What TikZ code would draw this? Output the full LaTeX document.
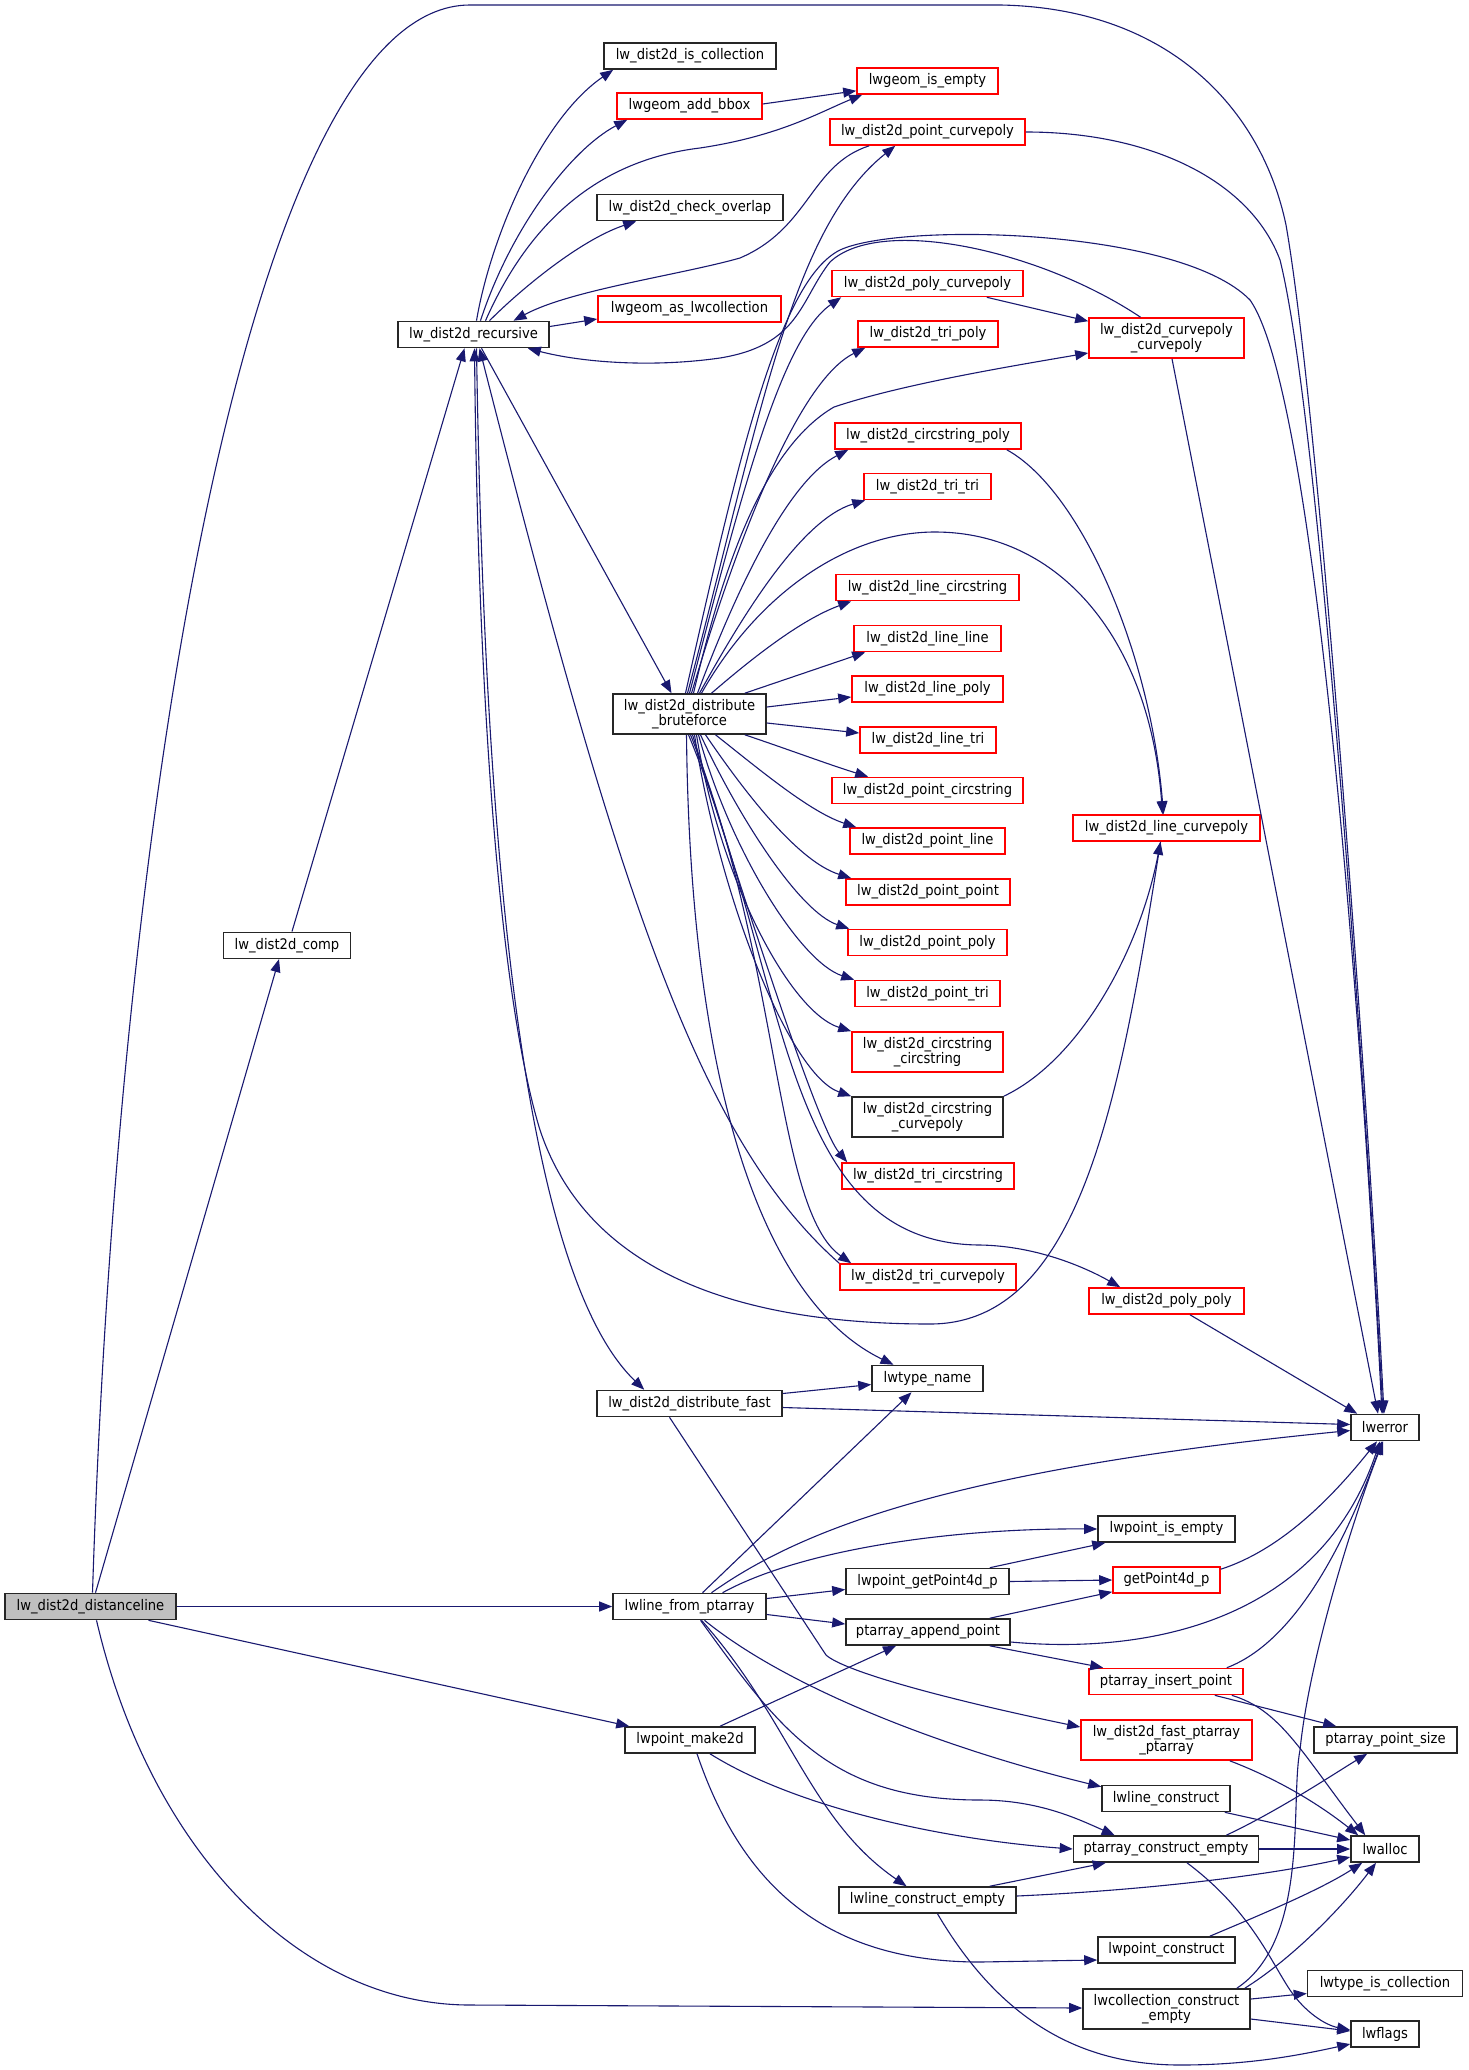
\documentclass[tikz,border=0pt]{standalone}
\usepackage{fontspec}
\setmainfont{DejaVu Sans}[FakeStretch=0.9]
\usetikzlibrary{arrows.meta,calc}
\definecolor{edgec}{HTML}{191970}
\definecolor{redb}{HTML}{FF0000}
\definecolor{grayf}{HTML}{BFBFBF}
\begin{document}
\begin{tikzpicture}[x=0.5pt,y=-0.5pt,
  nd/.style={draw, rectangle, inner sep=0pt, minimum height=13pt, font=\fontsize{7.3pt}{7.6pt}\selectfont, align=center, line width=0.8pt, fill=white},
  kb/.style={nd, draw=black!85},
  rb/.style={nd, draw=redb},
  wd/.style={minimum width=#1*0.5pt},
  tall/.style={minimum height=20pt},
  ed/.style={draw=edgec, line width=0.55pt, -{Triangle[length=6.5pt,width=5pt]}},
]
\useasboundingbox[fill=white] (0,0) rectangle (1468,2070);
% nodes
\node[kb, fill=grayf, wd=171] (dl) at (90.5,1606.5) {lw\_dist2d\_distanceline};
\node[kb, wd=127] (comp) at (287,945.3) {lw\_dist2d\_comp};
\node[kb, wd=151] (rec) at (473.5,334.5) {lw\_dist2d\_recursive};
\node[kb, wd=172] (iscoll) at (690,56) {lw\_dist2d\_is\_collection};
\node[rb, wd=145] (addbb) at (689.5,106) {lwgeom\_add\_bbox};
\node[kb, wd=186] (chko) at (690,207.5) {lw\_dist2d\_check\_overlap};
\node[rb, wd=183] (aslwc) at (689.5,309) {lwgeom\_as\_lwcollection};
\node[kb, wd=153, tall] (bf) at (689.5,714) {lw\_dist2d\_distribute\\\_bruteforce};
\node[kb, wd=185] (dfast) at (689.5,1403.5) {lw\_dist2d\_distribute\_fast};
\node[kb, wd=153] (lfp) at (689.5,1606.5) {lwline\_from\_ptarray};
\node[kb, wd=130] (mk2d) at (690,1740) {lwpoint\_make2d};
\node[rb, wd=141] (isempty) at (927.5,81) {lwgeom\_is\_empty};
\node[rb, wd=195] (ptcp) at (927.5,132) {lw\_dist2d\_point\_curvepoly};
\node[rb, wd=191] (polycp) at (927.5,283.5) {lw\_dist2d\_poly\_curvepoly};
\node[rb, wd=140] (tripoly) at (928,334) {lw\_dist2d\_tri\_poly};
\node[rb, wd=186] (cspoly) at (928,436) {lw\_dist2d\_circstring\_poly};
\node[rb, wd=127] (tritri) at (927.5,486.5) {lw\_dist2d\_tri\_tri};
\node[rb, wd=183] (linecs) at (927.5,587.5) {lw\_dist2d\_line\_circstring};
\node[rb, wd=147] (lineline) at (927.5,638.5) {lw\_dist2d\_line\_line};
\node[rb, wd=151] (linepoly) at (927.5,689) {lw\_dist2d\_line\_poly};
\node[rb, wd=136] (linetri) at (928,740) {lw\_dist2d\_line\_tri};
\node[rb, wd=191] (ptcs) at (927.5,790.5) {lw\_dist2d\_point\_circstring};
\node[rb, wd=155] (ptline) at (927.5,841) {lw\_dist2d\_point\_line};
\node[rb, wd=164] (ptpt) at (928,892) {lw\_dist2d\_point\_point};
\node[rb, wd=159] (ptpoly) at (927.5,942.5) {lw\_dist2d\_point\_poly};
\node[rb, wd=145] (pttri) at (927.5,993.5) {lw\_dist2d\_point\_tri};
\node[rb, wd=151, tall] (cscs) at (927.5,1052) {lw\_dist2d\_circstring\\\_circstring};
\node[kb, wd=151, tall] (cscp) at (927.5,1117) {lw\_dist2d\_circstring\\\_curvepoly};
\node[rb, wd=172] (trics) at (928,1176) {lw\_dist2d\_tri\_circstring};
\node[rb, wd=176] (tricp) at (928,1277) {lw\_dist2d\_tri\_curvepoly};
\node[kb, wd=111] (tname) at (927.5,1378.5) {lwtype\_name};
\node[kb, wd=163] (gp4d) at (927.5,1581.5) {lwpoint\_getPoint4d\_p};
\node[kb, wd=164] (apppt) at (928,1632) {ptarray\_append\_point};
\node[kb, wd=177] (lce) at (927.5,1900) {lwline\_construct\_empty};
\node[rb, wd=155, tall] (cpcp) at (1166.5,338) {lw\_dist2d\_curvepoly\\\_curvepoly};
\node[rb, wd=187] (linecp) at (1166.5,828) {lw\_dist2d\_line\_curvepoly};
\node[rb, wd=155] (polypoly) at (1166.5,1301) {lw\_dist2d\_poly\_poly};
\node[kb, wd=137] (ptisempty) at (1166.5,1529) {lwpoint\_is\_empty};
\node[rb, wd=107] (getp) at (1166.5,1580) {getPoint4d\_p};
\node[rb, wd=154] (inspt) at (1166,1681.5) {ptarray\_insert\_point};
\node[rb, wd=171, tall] (fastpp) at (1166.5,1740) {lw\_dist2d\_fast\_ptarray\\\_ptarray};
\node[kb, wd=128] (lcons) at (1166,1798.5) {lwline\_construct};
\node[kb, wd=185] (pce) at (1166,1849) {ptarray\_construct\_empty};
\node[kb, wd=137] (ptcons) at (1166.5,1950) {lwpoint\_construct};
\node[kb, wd=167, tall] (colce) at (1166.5,2009) {lwcollection\_construct\\\_empty};
\node[kb, wd=68] (lwerror) at (1385,1427.5) {lwerror};
\node[kb, wd=143] (pps) at (1385.5,1740) {ptarray\_point\_size};
\node[kb, wd=68] (lwalloc) at (1385,1849) {lwalloc};
\node[kb, wd=155] (tic) at (1385,1983.5) {lwtype\_is\_collection};
\node[kb, wd=68] (lwflags) at (1385,2034) {lwflags};

% distanceline
\draw[ed] ($(dl.north)+(2,0)$) .. controls (118,800) and (250,5) .. (470,5) -- (1000,5) .. controls (1170,8) and (1262,110) .. (1286,225) .. controls (1320,420) and (1368,1100) .. ($(lwerror.north)+(-1,0)$);
\draw[ed] ($(dl.north)+(5,0)$) -- ($(comp.south)+(-8,0)$);
\draw[ed] (dl.east) -- (lfp.west);
\draw[ed] ($(dl.south)+(58,0)$) -- ($(mk2d.north west)+(5,0)$);
\draw[ed] ($(dl.south)+(6,0)$) .. controls (150,1850) and (300,2005) .. (470,2005) -- ($(colce.west)+(0,-1)$);
% comp
\draw[ed] ($(comp.north)+(5,0)$) -- ($(rec.south)+(-9,0)$);
% recursive
\draw[ed] ($(rec.north)+(3,0)$) .. controls (490,240) and (540,120) .. ($(iscoll.south west)+(10,0)$);
\draw[ed] ($(rec.north)+(7,0)$) .. controls (510,230) and (570,150) .. ($(addbb.south west)+(11,0)$);
\draw[ed] ($(rec.north)+(12,0)$) .. controls (530,220) and (600,160) .. (700,148) .. controls (780,136) and (820,112) .. ($(isempty.south west)+(6,0)$);
\draw[ed] ($(addbb.east)+(0,-2)$) -- ($(isempty.south west)+(0,-4)$);
\draw[ed] ($(rec.north)+(16,0)$) .. controls (520,290) and (580,240) .. ($(chko.south west)+(40,0)$);
\draw[ed] ($(ptcp.south west)+(40,0)$) .. controls (810,165) and (810,228) .. (740,258) .. controls (680,275) and (570,290) .. ($(rec.north)+(40,0)$);
\draw[ed] ($(rec.east)+(0,-8)$) -- ($(aslwc.west)+(0,10)$);
\draw[ed] ($(cpcp.north)+(-26,0)$) .. controls (1040,250) and (880,215) .. (830,262) .. controls (800,300) and (800,345) .. (720,358) .. controls (650,368) and (580,362) .. ($(rec.south east)+(-22,0)$);
\draw[ed] ($(rec.south)+(8,0)$) -- ($(bf.north)+(-18,0)$);
\draw[ed] ($(rec.south)+(3,0)$) .. controls (485,900) and (530,1280) .. ($(dfast.north west)+(48,0)$);
\draw[ed] (tricp.north west) .. controls (700,1140) and (620,900) .. ($(rec.south)+(6,0)$);
\draw[ed] ($(linecp.south)+(-6,0)$) .. controls (1120,1100) and (1080,1324) .. (930,1324) .. controls (700,1324) and (580,1250) .. (540,1130) .. controls (500,1000) and (478,700) .. ($(rec.south)+(1,0)$);
% bruteforce
\draw[ed] ($(bf.north)+(-2,0)$) .. controls (760,420) and (790,230) .. ($(ptcp.south west)+(66,0)$);
\draw[ed] (bf.north) .. controls (740,500) and (780,340) .. ($(polycp.south west)+(10,0)$);
\draw[ed] ($(bf.north)+(2,0)$) .. controls (740,530) and (800,380) .. ($(tripoly.south west)+(8,0)$);
\draw[ed] ($(bf.north)+(4,0)$) .. controls (720,580) and (760,450) .. (834,407) .. controls (900,385) and (1000,368) .. ($(cpcp.west)+(0,15)$);
\draw[ed] ($(bf.north)+(8,0)$) .. controls (740,580) and (790,480) .. ($(cspoly.south west)+(14,0)$);
\draw[ed] ($(bf.north)+(10,0)$) .. controls (740,620) and (800,520) .. ($(tritri.south west)+(2,0)$);
\draw[ed] ($(bf.north)+(12,0)$) .. controls (760,590) and (850,532) .. (935,532) .. controls (1060,532) and (1150,640) .. ($(linecp.north)+(-4,0)$);
\draw[ed] ($(bf.north)+(22,0)$) .. controls (750,660) and (800,620) .. ($(linecs.south west)+(16,0)$);
\draw[ed] ($(bf.north east)+(-22,0)$) -- ($(lineline.south west)+(12,0)$);
\draw[ed] ($(bf.east)+(0,-7)$) -- ($(linepoly.west)+(0,8)$);
\draw[ed] ($(bf.east)+(0,9)$) -- ($(linetri.west)+(0,-7)$);
\draw[ed] ($(bf.south east)+(-22,0)$) .. controls (790,750) and (830,765) .. ($(ptcs.north west)+(37,0)$);
\draw[ed] ($(bf.south)+(26,0)$) .. controls (760,770) and (810,812) .. ($(ptline.north west)+(7,0)$);
\draw[ed] ($(bf.south)+(16,0)$) .. controls (750,800) and (800,862) .. ($(ptpt.north west)+(6,0)$);
\draw[ed] ($(bf.south)+(11,0)$) .. controls (740,820) and (800,912) .. ($(ptpoly.north west)+(2,0)$);
\draw[ed] ($(bf.south)+(9,0)$) .. controls (730,850) and (800,962) .. (pttri.north west);
\draw[ed] ($(bf.south)+(7,0)$) .. controls (720,880) and (790,1012) .. (cscs.north west);
\draw[ed] ($(bf.south)+(5,0)$) .. controls (720,900) and (790,1075) .. (cscp.north west);
\draw[ed] ($(bf.south)+(3,0)$) .. controls (760,950) and (820,1130) .. ($(trics.north west)+(6,0)$);
\draw[ed] ($(bf.south)+(1,0)$) .. controls (780,960) and (775,1210) .. ($(tricp.north west)+(12,0)$);
\draw[ed] ($(bf.south)+(-1,0)$) .. controls (790,980) and (780,1244) .. (980,1245) .. controls (1040,1246) and (1090,1270) .. ($(polypoly.north west)+(32,0)$);
\draw[ed] ($(bf.south)+(-3,0)$) .. controls (690,1080) and (760,1300) .. ($(tname.north)+(-34,0)$);
\draw[ed] ($(bf.north)+(-4,0)$) .. controls (740,450) and (780,280) .. (840,250) .. controls (900,222) and (1180,228) .. (1250,300) .. controls (1320,400) and (1366,1100) .. ($(lwerror.north)+(-3,0)$);
% rank 4/5 upper
\draw[ed] (ptcp.east) .. controls (1150,132) and (1250,180) .. (1280,260) .. controls (1320,420) and (1366,1100) .. ($(lwerror.north)+(-2,0)$);
\draw[ed] ($(polycp.south east)+(-37,0)$) -- ($(cpcp.north west)+(0,4)$);
\draw[ed] ($(cpcp.south)+(5.5,0)$) -- ($(lwerror.north)+(-7,0)$);
\draw[ed] ($(cspoly.south east)+(-15,0)$) .. controls (1080,490) and (1150,650) .. ($(linecp.north)+(-3,0)$);
\draw[ed] (cscp.north east) .. controls (1080,1060) and (1140,950) .. ($(linecp.south)+(-6,0)$);
\draw[ed] ($(polypoly.south)+(23.5,0)$) -- ($(lwerror.north west)+(7,0)$);
% distribute_fast
\draw[ed] ($(dfast.east)+(0,4)$) -- ($(lwerror.west)+(0,-3)$);
\draw[ed] ($(dfast.east)+(0,-10)$) -- ($(tname.west)+(0,6)$);
\draw[ed] ($(dfast.south)+(-20,0)$) -- (826,1655) .. controls (845,1672) and (950,1700) .. ($(fastpp.west)+(0,-13)$);
% lwline_from_ptarray
\draw[ed] ($(lfp.north)+(13,0)$) -- ($(tname.south)+(-16,0)$);
\draw[ed] ($(lfp.north)+(22,0)$) .. controls (800,1530) and (950,1470) .. ($(lwerror.west)+(0,3)$);
\draw[ed] ($(lfp.north)+(33,0)$) .. controls (800,1550) and (950,1528) .. (ptisempty.west);
\draw[ed] ($(lfp.east)+(0,-8)$) -- ($(gp4d.west)+(0,8)$);
\draw[ed] ($(lfp.east)+(0,8)$) -- ($(apppt.west)+(0,-8)$);
\draw[ed] ($(lfp.south)+(15,0)$) .. controls (790,1690) and (950,1750) .. ($(lcons.north west)+(0,2)$);
\draw[ed] ($(lfp.south)+(11,0)$) .. controls (780,1730) and (830,1800) .. (980,1800) .. controls (1040,1800) and (1080,1820) .. ($(pce.north west)+(42,0)$);
\draw[ed] ($(lfp.south)+(12,0)$) .. controls (790,1720) and (810,1820) .. ($(lce.north)+(-21,0)$);
% lwpoint_make2d
\draw[ed] ($(mk2d.north)+(30,0)$) -- ($(apppt.south)+(-32,0)$);
\draw[ed] ($(mk2d.south)+(20,0)$) .. controls (800,1810) and (950,1840) .. (pce.west);
\draw[ed] ($(mk2d.south)+(7,0)$) .. controls (740,1880) and (820,1962) .. (980,1962) -- ($(ptcons.west)+(0,10)$);
% rank 4 -> 5
\draw[ed] ($(gp4d.north east)+(-20,0)$) -- ($(ptisempty.south west)+(8,0)$);
\draw[ed] (gp4d.east) -- (getp.west);
\draw[ed] ($(apppt.north east)+(-21,0)$) -- ($(getp.south west)+(0,-2)$);
\draw[ed] ($(apppt.south east)+(-21,0)$) -- ($(inspt.north west)+(15,0)$);
\draw[ed] ($(apppt.east)+(0,10)$) .. controls (1150,1655) and (1320,1620) .. ($(lwerror.south)+(-5,0)$);
\draw[ed] ($(getp.north east)+(0,3)$) .. controls (1280,1550) and (1330,1500) .. ($(lwerror.south)+(-8,0)$);
\draw[ed] ($(inspt.north east)+(-17,0)$) .. controls (1300,1640) and (1350,1530) .. ($(lwerror.south)+(-3,0)$);
\draw[ed] ($(inspt.south east)+(-29,0)$) -- ($(pps.north west)+(23,0)$);
\draw[ed] ($(inspt.south east)+(-12,0)$) .. controls (1280,1710) and (1300,1750) .. ($(lwalloc.north west)+(15,0)$);
\draw[ed] ($(fastpp.south east)+(-23,0)$) .. controls (1280,1780) and (1320,1805) .. ($(lwalloc.north west)+(8,0)$);
\draw[ed] ($(lcons.south east)+(-6,0)$) -- ($(lwalloc.west)+(0,-9)$);
\draw[ed] (pce.east) -- (lwalloc.west);
\draw[ed] ($(pce.north east)+(-33,0)$) .. controls (1280,1810) and (1340,1770) .. ($(pps.south west)+(54,0)$);
\draw[ed] ($(pce.south)+(21,0)$) .. controls (1250,1910) and (1270,1960) .. (1290,1990) .. controls (1305,2012) and (1325,2025) .. ($(lwflags.west)+(0,-4)$);
\draw[ed] ($(lce.north east)+(-27,0)$) -- ($(pce.south west)+(33,0)$);
\draw[ed] ($(lce.east)+(0,-4)$) .. controls (1150,1890) and (1270,1875) .. ($(lwalloc.west)+(0,8)$);
\draw[ed] ($(lce.south)+(10,0)$) .. controls (1000,2020) and (1080,2065) .. (1180,2065) .. controls (1250,2065) and (1300,2055) .. ($(lwflags.west)+(0,10)$);
\draw[ed] ($(ptcons.north east)+(-26,0)$) .. controls (1260,1915) and (1320,1890) .. ($(lwalloc.south west)+(12,0)$);
\draw[ed] ($(colce.north east)+(-6,0)$) .. controls (1290,1960) and (1340,1910) .. ($(lwalloc.south)+(-9,0)$);
\draw[ed] ($(colce.north east)+(-14,0)$) .. controls (1310,1940) and (1290,1800) .. (1300,1750) .. controls (1310,1650) and (1360,1500) .. ($(lwerror.south)+(-2,0)$);
\draw[ed] ($(colce.east)+(0,-10)$) -- ($(tic.west)+(0,10)$);
\draw[ed] ($(colce.east)+(0,10)$) -- ($(lwflags.west)+(0,-3)$);
\end{tikzpicture}
\end{document}
